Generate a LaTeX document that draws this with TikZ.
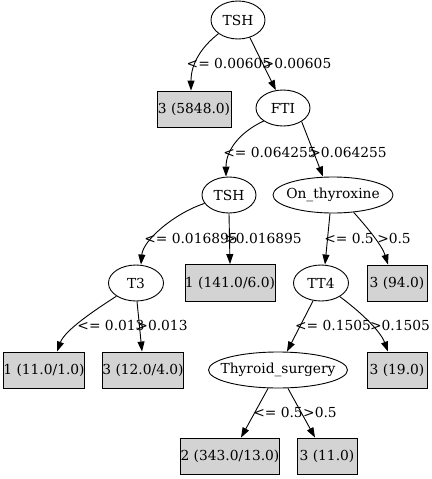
\documentclass[tikz,border=0pt]{standalone}
\usepackage{fontspec}
\setmainfont{DejaVu Serif}
\usetikzlibrary{shapes.geometric,arrows.meta}
\definecolor{leafgray}{RGB}{211,211,211}
% text of fixed-size ellipses: zero width so the ellipse keeps its given size
\newcommand{\fixtxt}[1]{\makebox[0pt]{#1}}
\begin{document}
\begin{tikzpicture}[x=1pt,y=-1pt,
  font=\fontsize{13.8}{16}\selectfont,
  test/.style={ellipse,draw,line width=0.9pt,inner sep=0pt,minimum height=36pt},
  leaf/.style={rectangle,draw,line width=0.9pt,fill=leafgray,inner sep=0pt,minimum height=36pt},
  edge/.style={line width=0.9pt,-{Triangle[length=10pt,width=7pt]}},
  lab/.style={inner sep=0pt,anchor=center}]
\useasboundingbox (0,0) rectangle (431,479);

% decision nodes
\node[test,minimum width=54pt,minimum height=38pt] (tshA) at (238,20) {\fixtxt{TSH}};
\node[test,minimum width=54pt] (fti) at (283,108) {\fixtxt{FTI}};
\node[test,minimum width=54pt] (tshB) at (229,195) {\fixtxt{TSH}};
\node[test,minimum width=120pt] (thyrox) at (333,195) {\fixtxt{On\_thyroxine}};
\node[test,minimum width=55pt] (tthree) at (136,283) {\fixtxt{T3}};
\node[test,minimum width=55pt] (ttfour) at (321,283) {\fixtxt{TT4}};
\node[test,minimum width=139pt] (surg) at (278,370) {\fixtxt{Thyroid\_surgery}};

% leaves
\node[leaf,minimum width=74pt] (lfA) at (194,109) {3 (5848.0)};
\node[leaf,minimum width=89pt,minimum height=37pt] (lfB) at (230,283) {1 (141.0/6.0)};
\node[leaf,minimum width=60pt] (lfC) at (397,283) {3 (94.0)};
\node[leaf,minimum width=81pt] (lfD) at (44,370) {1 (11.0/1.0)};
\node[leaf,minimum width=81pt] (lfE) at (143,370) {3 (12.0/4.0)};
\node[leaf,minimum width=60pt] (lfF) at (397,370) {3 (19.0)};
\node[leaf,minimum width=95pt] (lfG) at (230,456) {2 (343.0/13.0)};
\node[leaf,minimum width=60pt] (lfH) at (327,456) {3 (11.0)};

% connectors
\draw[edge] (tshA.215) .. controls (200,48) and (191,65) .. ([xshift=-3pt]lfA.north);
\draw[edge] (tshA.304) -- (fti.112);
\draw[edge] (fti.214) .. controls (240,132) and (226,150) .. ([xshift=-3pt]tshB.north);
\draw[edge] (fti.324) -- ([xshift=-10pt]thyrox.north);
\draw[edge] (tshB.199) .. controls (175,213) and (143,240) .. ([xshift=5pt]tthree.north);
\draw[edge] (tshB.south) -- (lfB.north);
\draw[edge] ([xshift=-3pt]thyrox.south) -- ([xshift=4pt]ttfour.north);
\draw[edge] (thyrox.320) .. controls (365,225) and (382,245) .. ([xshift=-9pt]lfC.north);
\draw[edge] (tthree.214) .. controls (95,310) and (65,330) .. ([xshift=13pt]lfD.north);
\draw[edge] ([xshift=1pt]tthree.south) -- ([xshift=-1pt]lfE.north);
\draw[edge] (ttfour.246) -- ([xshift=9pt]surg.north);
\draw[edge] (ttfour.324) .. controls (358,310) and (380,330) .. ([xshift=-9pt]lfF.north);
\draw[edge] ([xshift=-10pt]surg.south) -- ([xshift=11pt]lfG.north);
\draw[edge] ([xshift=10pt]surg.south) -- ([xshift=-12pt]lfH.north);

% connector labels
\node[lab] (eA1) at (229,63) {<= 0.00605};
\node[lab] (eA2) at (297,63) {>0.00605};
\node[lab] (eB1) at (270,152) {<= 0.064255};
\node[lab] (eB2) at (348,152) {>0.064255};
\node[lab] (eC1) at (191,238) {<= 0.016895};
\node[lab] (eC2) at (263,238) {>0.016895};
\node[lab] (eD1) at (349,238) {<= 0.5};
\node[lab] (eD2) at (394,238) {>0.5};
\node[lab] (eE1) at (111,325) {<= 0.013};
\node[lab] (eE2) at (162,325) {>0.013};
\node[lab] (eF1) at (333,325) {<= 0.1505};
\node[lab] (eF2) at (400,325) {>0.1505};
\node[lab] (eG1) at (278,412) {<= 0.5};
\node[lab] (eG2) at (320,412) {>0.5};
\end{tikzpicture}
\end{document}
